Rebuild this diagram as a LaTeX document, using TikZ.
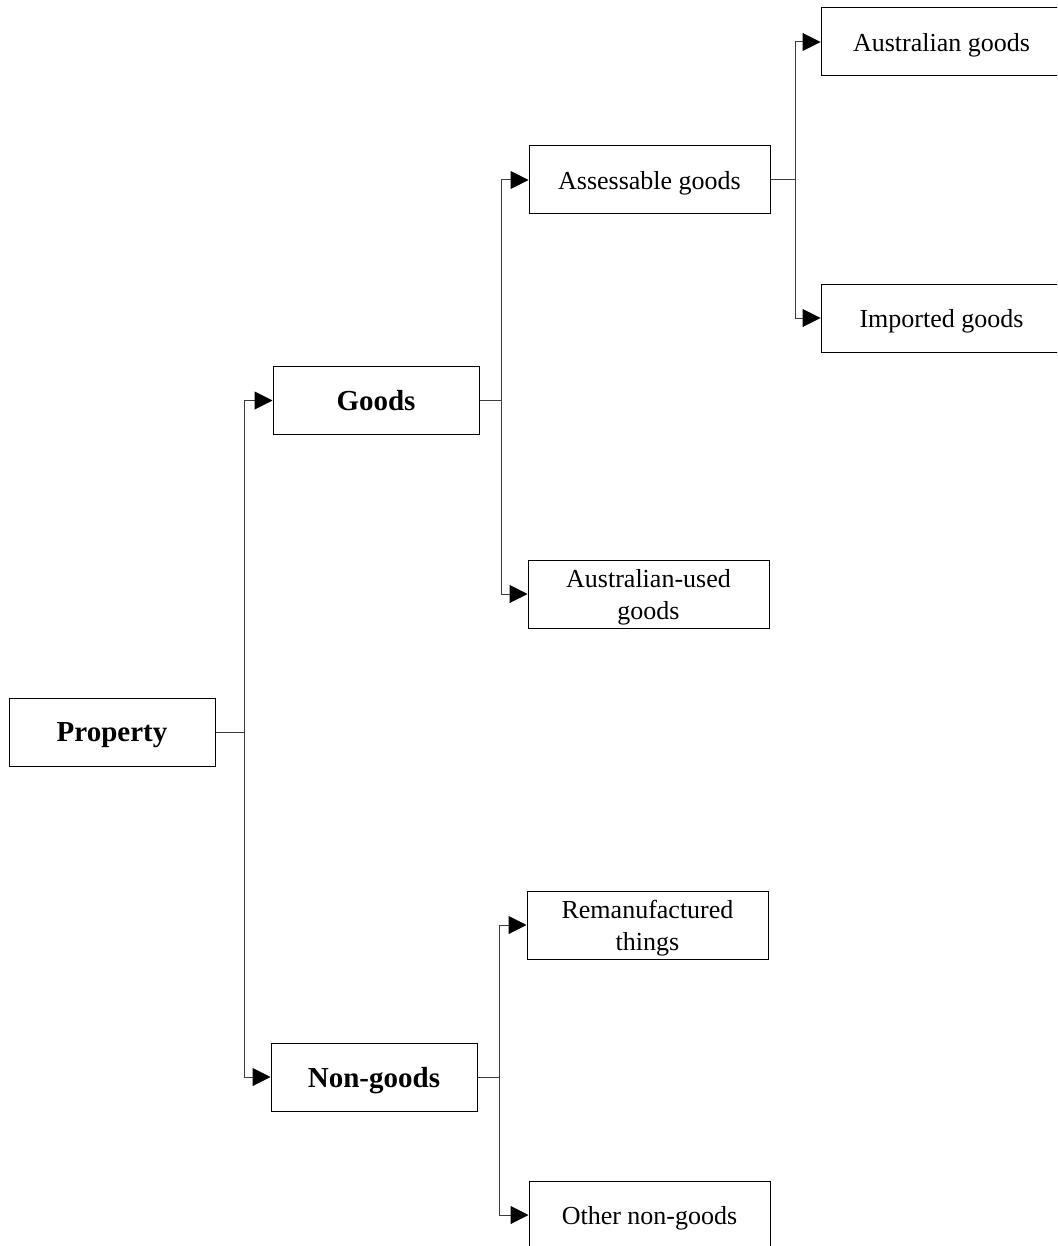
\documentclass[tikz,border=0pt]{standalone}
\usepackage{fontspec}
\setmainfont{Liberation Serif}
\usepackage{tikz}
\usetikzlibrary{arrows.meta,positioning}
\usepackage{xcolor}
\definecolor{lineblack}{RGB}{60,60,60}
\tikzstyle{topbox} = [draw=black, line width=0.5pt, minimum width=103pt, minimum height=34pt, inner sep=0pt, text depth=0pt, font=\fontsize{14.5}{17}\selectfont\bfseries]
\tikzstyle{subbox} = [draw=black, line width=0.5pt, minimum width=120.5pt, minimum height=34pt, inner sep=0pt, text depth=0pt, align=center, font=\fontsize{13}{16}\selectfont]
\tikzstyle{link} = [line width=0.5pt, color=lineblack]
\tikzstyle{arrow} = [link, -{Triangle[length=9pt,width=9pt,color=black]}]

\begin{document}
\begin{tikzpicture}[x=0.5pt, y=-0.5pt]
\clip (0,0) rectangle (1057,1246);

% Main boxes
\node[topbox] (property) at (112,732) {Property};
\node[topbox] (goods) at (376,400.5) {Goods};
\node[topbox] (nongoods) at (374,1077) {Non-goods};

% Sub boxes
\node[subbox] (assess) at (649.5,180) {Assessable goods};
\node[subbox] (ausused) at (648.5,594) {Australian-used\\goods};
\node[subbox] (reman) at (647.5,925) {Remanufactured\\things};
\node[subbox] (othernon) at (649.5,1215) {Other non-goods};
\node[subbox] (ausgoods) at (941.5,42) {Australian goods};
\node[subbox] (imported) at (941.5,318) {Imported goods};

% Junctions
\coordinate (jprop) at (244,732);
\coordinate (jgoods) at (501,400.5);
\coordinate (jnon) at (499,1077);
\coordinate (jassess) at (795,180);

% Connectors
\draw[link] (property.east) -- (jprop);
\draw[arrow] (jprop) |- (goods.west);
\draw[arrow] (jprop) |- (nongoods.west);

\draw[link] (goods.east) -- (jgoods);
\draw[arrow] (jgoods) |- (assess.west);
\draw[arrow] (jgoods) |- (ausused.west);

\draw[link] (nongoods.east) -- (jnon);
\draw[arrow] (jnon) |- (reman.west);
\draw[arrow] (jnon) |- (othernon.west);

\draw[link] (assess.east) -- (jassess);
\draw[arrow] (jassess) |- (ausgoods.west);
\draw[arrow] (jassess) |- (imported.west);
\end{tikzpicture}
\end{document}
